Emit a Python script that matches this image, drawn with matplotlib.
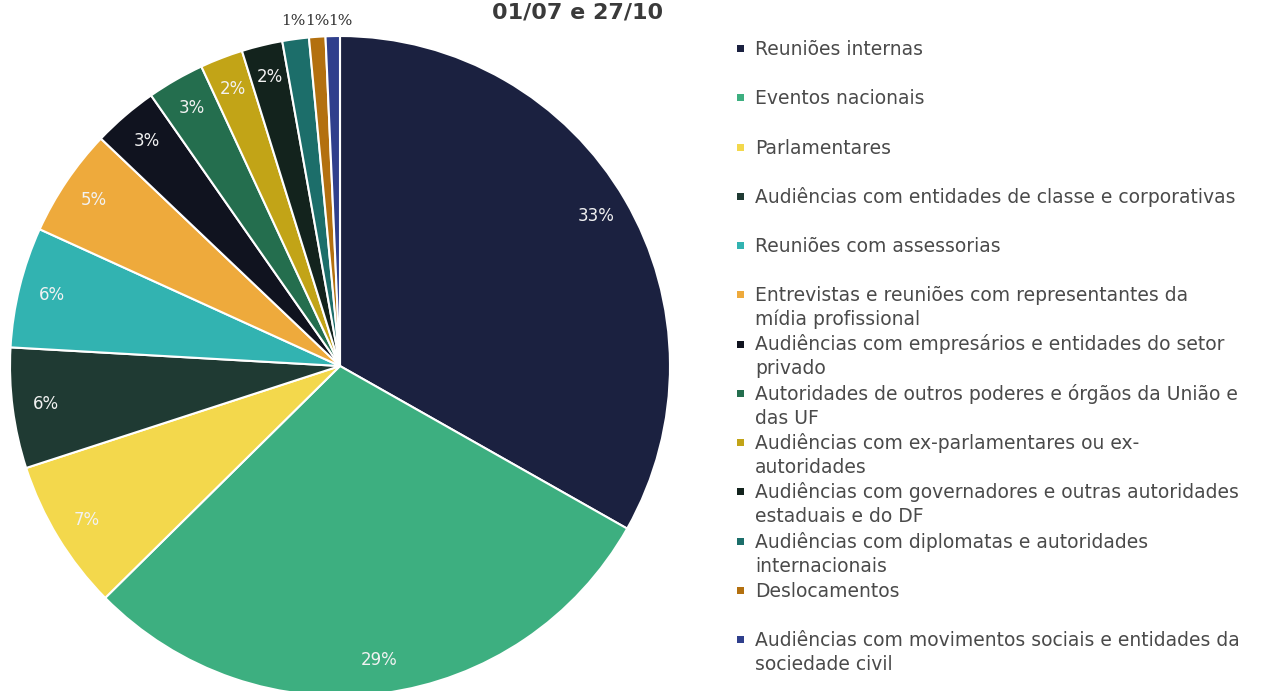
import numpy as np
import matplotlib
matplotlib.use("Agg")
import matplotlib.pyplot as plt
from matplotlib.patches import Rectangle

# data (share of agenda items)
categories = [
    "Reuniões internas",
    "Eventos nacionais",
    "Parlamentares",
    "Audiências com entidades de classe e corporativas",
    "Reuniões com assessorias",
    "Entrevistas e reuniões com representantes da\nmídia profissional",
    "Audiências com empresários e entidades do setor\nprivado",
    "Autoridades de outros poderes e órgãos da União e\ndas UF",
    "Audiências com ex-parlamentares ou ex-\nautoridades",
    "Audiências com governadores e outras autoridades\nestaduais e do DF",
    "Audiências com diplomatas e autoridades\ninternacionais",
    "Deslocamentos",
    "Audiências com movimentos sociais e entidades da\nsociedade civil",
]
values = [33.2, 29.4, 7.4, 5.9, 5.9, 5.3, 3.2, 2.8, 2.1, 2.0, 1.3, 0.8, 0.7]
colors = ["#1b2140", "#3daf80", "#f3d84c", "#1f3a33", "#32b3b1", "#eeaa3c",
          "#10131f", "#246e4e", "#c2a417", "#13231d", "#1c6e6a", "#b3700f", "#2f3f8c"]
title = "01/07 e 27/10"

W, H = 1285, 691
fig = plt.figure(figsize=(W / 100, H / 100), dpi=100)
fig.patch.set_facecolor("white")

# pie axes: centre (340, 366) px, radius 330 px
cx, cy, r = 340, 366, 330
ax = fig.add_axes([(cx - r) / W, (H - cy - r) / H, 2 * r / W, 2 * r / H])
wedges, _ = ax.pie(values, colors=colors, startangle=90, counterclock=False,
                   radius=1, wedgeprops=dict(edgecolor="white", linewidth=1.5))
ax.set_xlim(-1, 1)
ax.set_ylim(-1, 1)
ax.set_aspect("equal")
ax.axis("off")

total = sum(values)
outside = []
for w, v in zip(wedges, values):
    mid = np.deg2rad((w.theta1 + w.theta2) / 2)
    pct = f"{v / total * 100:.0f}%"
    if v >= 1.5:
        ax.text(0.9 * np.cos(mid), 0.9 * np.sin(mid), pct, ha="center", va="center",
                color="#f2f2f2", fontsize=12, family="DejaVu Sans")
    else:
        outside.append([1.045 * np.cos(mid), pct])

# small slices: labels above the pie, spread so they don't overlap
outside.sort()
for i in range(1, len(outside)):
    outside[i][0] = max(outside[i][0], outside[i - 1][0] + 0.071)
for x, pct in outside:
    ax.text(x, 1.045, pct, ha="center", va="center", color="#333333",
            fontsize=11, family="DejaVu Serif", clip_on=False)

# title
fig.text(578 / W, 1 - 19 / H, title, ha="center", va="baseline", fontsize=16,
         fontweight="bold", color="#3a3a3a")

# legend drawn by hand: every entry takes two lines of space
for i, (lab, c) in enumerate(zip(categories, colors)):
    base = 55 + i * 49.25
    fig.add_artist(Rectangle((737 / W, 1 - (base - 3) / H), 7 / W, 7 / H,
                             transform=fig.transFigure, facecolor=c, edgecolor="none"))
    for k, line in enumerate(lab.split("\n")):
        fig.text(755 / W, 1 - (base + k * 24) / H, line, ha="left", va="baseline",
                 fontsize=13.5, color="#4a4a4a")

fig.savefig("out.png", dpi=100)
